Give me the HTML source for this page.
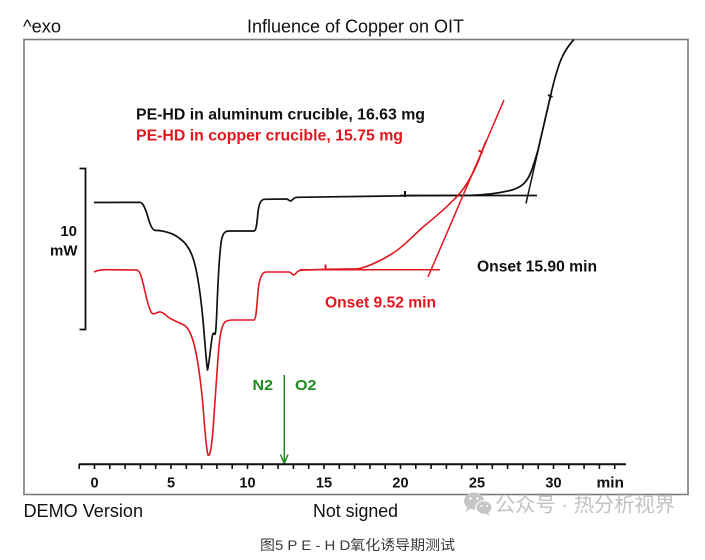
<!DOCTYPE html>
<html>
<head>
<meta charset="utf-8">
<style>
  html,body{margin:0;padding:0;background:#fff;}
  svg{display:block;}
  text{font-family:"Liberation Sans",Arial,sans-serif;}
</style>
</head>
<body>
<svg width="705" height="560" viewBox="0 0 705 560" xmlns="http://www.w3.org/2000/svg">
  <rect x="0" y="0" width="705" height="560" fill="#fff"/>

  <!-- header -->
  <text x="23" y="32.5" font-size="18" fill="#111" textLength="38" lengthAdjust="spacingAndGlyphs">^exo</text>
  <text x="247" y="32.5" font-size="18" fill="#111" textLength="217" lengthAdjust="spacingAndGlyphs">Influence of Copper on OIT</text>

  <!-- frame -->
  <rect x="24" y="39.5" width="664" height="455" fill="none" stroke="#7c7c7c" stroke-width="1.6"/>

  <!-- legend -->
  <text x="136" y="119.3" font-size="16" font-weight="bold" fill="#111" textLength="289" lengthAdjust="spacingAndGlyphs">PE-HD in aluminum crucible, 16.63 mg</text>
  <text x="136" y="140.7" font-size="16" font-weight="bold" fill="#e3161d" textLength="267" lengthAdjust="spacingAndGlyphs">PE-HD in copper crucible, 15.75 mg</text>

  <!-- scale bar -->
  <path d="M79.5,168.5 L85.5,168.5 L85.5,329.5 L79.5,329.5" fill="none" stroke="#111" stroke-width="1.8"/>
  <text x="77" y="236" font-size="15" font-weight="bold" fill="#111" text-anchor="end">10</text>
  <text x="77.5" y="255.5" font-size="15" font-weight="bold" fill="#111" text-anchor="end">mW</text>

  <!-- black curve -->
  <path d="M94,202.5 L140,202.3
    C143,202.5 145,208 147,214
    C149,221 151,228 154,230
    C156,231 158,230 162,231
    C168,232 174,234 179,238
    C185,242 190,249 193,258
    C197,270 200,290 202.5,315
    C204.5,335 206,360 207.5,370
    C209,365 210.5,348 212,338
    C212.5,334 213.5,332 214.5,334
    C215.5,336 216,330 216.8,312
    C217.8,285 219,255 221.5,240
    C223,233 225,231 229,231
    L254,231
    C256.5,231 257,222 258,212
    C259,204 260.5,200 264,199.3
    L286,199
    C288,199 289.5,201 291,201
    C292.5,200 293.5,197.5 297,197.3
    L405,195.8
    L470,195.3
    C485,195 500,193 512,190
    C522,187 527,182 531,172
    C534,164 536,157 538,150
    L550.5,96
    C553,85 555,77 558,68
    C561,58 566,48 574,39.5"
    fill="none" stroke="#111" stroke-width="1.7" stroke-linejoin="round"/>
  <!-- black baseline extension & tangent -->
  <line x1="400" y1="195.5" x2="537" y2="195.5" stroke="#111" stroke-width="1.7"/>
  <line x1="526" y1="203.5" x2="550" y2="98" stroke="#111" stroke-width="1.5"/>
  <line x1="405" y1="191" x2="405" y2="197" stroke="#111" stroke-width="2"/>
  <line x1="548" y1="95" x2="552.5" y2="97" stroke="#111" stroke-width="2"/>

  <!-- red curve -->
  <path d="M94,272 C97,270.5 100,269.7 106,269.7 L137,270
    C140,271 141.5,277 143.5,285
    C145.5,294 148,306 151,312
    C153,315.5 156,313 159,312
    C162,311.5 165,314 168,317
    C172,320 178,322 183,324.5
    C188,327 191,333 194,344
    C197,356 200,375 202.5,400
    C204.5,425 206,448 208,455
    C210,457 211.5,448 213,430
    C214.5,410 216,385 218,358
    C219.5,338 221,326 225,322
    C227,320.5 229,320 233,320
    L254,320
    C256.5,320 257,300 258.5,287
    C260,277 262,272.5 266,272
    L289,272
    C291,272 292,275 294,275
    C296,274 297,270.5 301,270.2
    L326,269.3
    L358,268.8
    C368,267 378,262 390,255
    C402,248 412,237 423,227
    C433,219 446,208 457,196.5
    C465,188 472,176 478,162
    C481,154 483,148 486,141"
    fill="none" stroke="#e3161d" stroke-width="1.6" stroke-linejoin="round"/>
  <!-- red baseline extension & tangent -->
  <line x1="300" y1="269.8" x2="440" y2="269.8" stroke="#e3161d" stroke-width="1.5"/>
  <line x1="428" y1="277" x2="504" y2="100" stroke="#e3161d" stroke-width="1.5"/>
  <line x1="325.5" y1="264.5" x2="325.5" y2="270" stroke="#e3161d" stroke-width="2"/>
  <line x1="478.5" y1="150.5" x2="483" y2="152.5" stroke="#e3161d" stroke-width="2"/>

  <!-- onset labels -->
  <text x="477" y="271.7" font-size="16" font-weight="bold" fill="#111" textLength="120" lengthAdjust="spacingAndGlyphs">Onset 15.90 min</text>
  <text x="325" y="307.3" font-size="16" font-weight="bold" fill="#e3161d" textLength="111" lengthAdjust="spacingAndGlyphs">Onset 9.52 min</text>

  <!-- gas switch arrow -->
  <line x1="284.3" y1="375" x2="284.3" y2="463" stroke="#1e8c1e" stroke-width="1.5"/>
  <path d="M280.5,454.5 L284.3,463.5 L288,454.5" fill="none" stroke="#1e8c1e" stroke-width="1.5"/>
  <text x="252.5" y="390" font-size="15" font-weight="bold" fill="#1e8c1e" textLength="20.5" lengthAdjust="spacingAndGlyphs">N2</text>
  <text x="295" y="390" font-size="15" font-weight="bold" fill="#1e8c1e" textLength="21.5" lengthAdjust="spacingAndGlyphs">O2</text>

  <!-- time axis -->
  <line x1="79" y1="464.3" x2="626" y2="464.3" stroke="#111" stroke-width="2"/>
  <g stroke="#111" stroke-width="1.6">
    <line x1="79.2" y1="464" x2="79.2" y2="469"/>
    <line x1="94.5" y1="464" x2="94.5" y2="469"/>
    <line x1="109.8" y1="464" x2="109.8" y2="469"/>
    <line x1="125.1" y1="464" x2="125.1" y2="469"/>
    <line x1="140.4" y1="464" x2="140.4" y2="469"/>
    <line x1="155.7" y1="464" x2="155.7" y2="469"/>
    <line x1="171" y1="464" x2="171" y2="469"/>
    <line x1="186.3" y1="464" x2="186.3" y2="469"/>
    <line x1="201.6" y1="464" x2="201.6" y2="469"/>
    <line x1="216.9" y1="464" x2="216.9" y2="469"/>
    <line x1="232.2" y1="464" x2="232.2" y2="469"/>
    <line x1="247.5" y1="464" x2="247.5" y2="469"/>
    <line x1="262.8" y1="464" x2="262.8" y2="469"/>
    <line x1="278.1" y1="464" x2="278.1" y2="469"/>
    <line x1="293.4" y1="464" x2="293.4" y2="469"/>
    <line x1="308.7" y1="464" x2="308.7" y2="469"/>
    <line x1="324" y1="464" x2="324" y2="469"/>
    <line x1="339.3" y1="464" x2="339.3" y2="469"/>
    <line x1="354.6" y1="464" x2="354.6" y2="469"/>
    <line x1="369.9" y1="464" x2="369.9" y2="469"/>
    <line x1="385.2" y1="464" x2="385.2" y2="469"/>
    <line x1="400.5" y1="464" x2="400.5" y2="469"/>
    <line x1="415.8" y1="464" x2="415.8" y2="469"/>
    <line x1="431.1" y1="464" x2="431.1" y2="469"/>
    <line x1="446.4" y1="464" x2="446.4" y2="469"/>
    <line x1="461.7" y1="464" x2="461.7" y2="469"/>
    <line x1="477" y1="464" x2="477" y2="469"/>
    <line x1="492.3" y1="464" x2="492.3" y2="469"/>
    <line x1="507.6" y1="464" x2="507.6" y2="469"/>
    <line x1="522.9" y1="464" x2="522.9" y2="469"/>
    <line x1="538.2" y1="464" x2="538.2" y2="469"/>
    <line x1="553.5" y1="464" x2="553.5" y2="469"/>
    <line x1="568.8" y1="464" x2="568.8" y2="469"/>
    <line x1="584.1" y1="464" x2="584.1" y2="469"/>
    <line x1="599.4" y1="464" x2="599.4" y2="469"/>
    <line x1="614.7" y1="464" x2="614.7" y2="469"/>
  </g>
  <g font-size="14.5" font-weight="bold" fill="#111" text-anchor="middle">
    <text x="94.5" y="487.5">0</text>
    <text x="171" y="487.5">5</text>
    <text x="247.5" y="487.5">10</text>
    <text x="324" y="487.5">15</text>
    <text x="400.5" y="487.5">20</text>
    <text x="477" y="487.5">25</text>
    <text x="553.5" y="487.5">30</text>
  </g>
  <text x="596.5" y="487.5" font-size="15" font-weight="bold" fill="#111" textLength="27.5" lengthAdjust="spacingAndGlyphs">min</text>

  <!-- footer -->
  <text x="23.5" y="517" font-size="18" fill="#111" textLength="119.5" lengthAdjust="spacingAndGlyphs">DEMO Version</text>
  <text x="313" y="517" font-size="18" fill="#111" textLength="85" lengthAdjust="spacingAndGlyphs">Not signed</text>

  <!-- watermark -->
  <g fill="#c6c6c6">
    <ellipse cx="474" cy="501" rx="10" ry="8.5"/>
    <path d="M467,507 L466,512 L471,508 Z"/>
    <ellipse cx="484" cy="507.5" rx="8" ry="6.8" stroke="#fff" stroke-width="1.2"/>
    <path d="M488,512 L490,516 L485,513.5 Z"/>
  </g>
  <g fill="#fff">
    <circle cx="470.5" cy="498.5" r="1.3"/>
    <circle cx="477.5" cy="498.5" r="1.3"/>
    <circle cx="481.5" cy="506" r="1"/>
    <circle cx="487" cy="506" r="1"/>
  </g>
  <text x="495" y="511.5" font-size="20" fill="#c2c2c2" font-family="'Liberation Sans','Noto Sans CJK SC',sans-serif" textLength="180" lengthAdjust="spacingAndGlyphs">公众号 · 热分析视界</text>

  <!-- caption -->
  <text x="260" y="550" font-size="14" fill="#3a3a3a" font-family="'Noto Sans CJK SC','WenQuanYi Zen Hei',sans-serif" textLength="195" lengthAdjust="spacingAndGlyphs">图5  P E - H D氧化诱导期测试</text>
</svg>
</body>
</html>
